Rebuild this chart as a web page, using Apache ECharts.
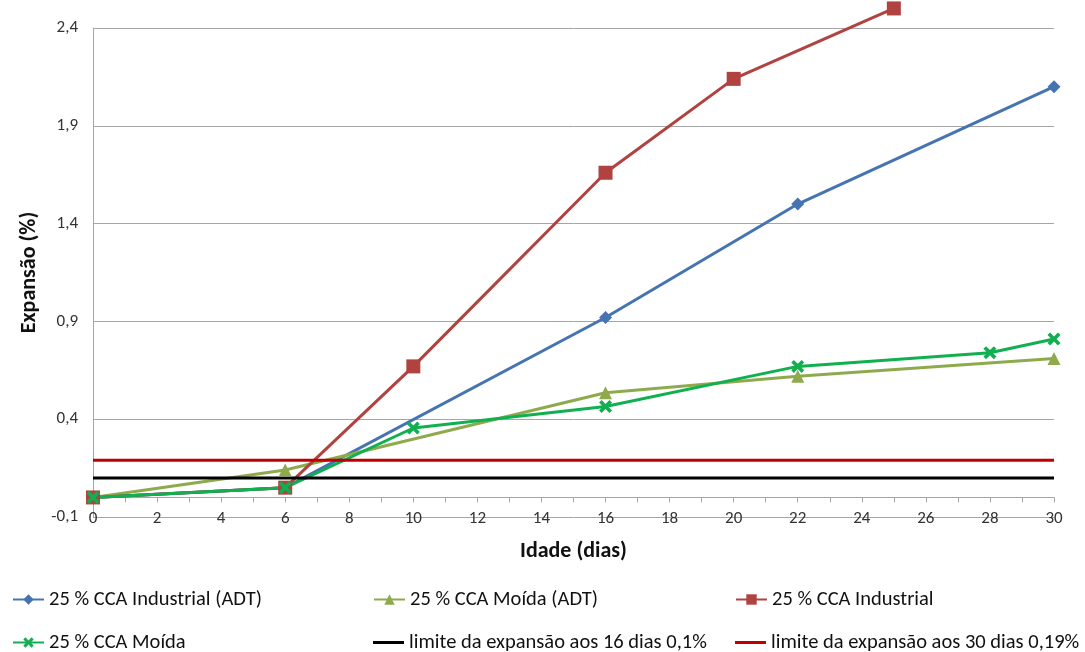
<!DOCTYPE html>
<html>
<head>
<meta charset="utf-8">
<script src="https://cdn.jsdelivr.net/npm/echarts@6/dist/echarts.min.js"></script>
<style>
  html, body { margin: 0; padding: 0; background: #fff; }
  #chart { width: 1085px; height: 652px; }
</style>
</head>
<body>
<div id="chart"></div>
<script>
// Expansion (%) against age (days) for the four CCA mixes and the two limits
const seriesNames = [
  '25 % CCA Industrial (ADT)',
  '25 % CCA Moída (ADT)',
  '25 % CCA Industrial',
  '25 % CCA Moída',
  'limite da expansão aos 16 dias 0,1%',
  'limite da expansão aos 30 dias 0,19%'
];

const industrialAdtDays = [0, 6, 16, 22, 30];
const industrialAdtExp  = [0.00, 0.05, 0.92, 1.50, 2.10];

const moidaAdtDays = [0, 6, 16, 22, 30];
const moidaAdtExp  = [0.00, 0.14, 0.535, 0.62, 0.71];

const industrialDays = [0, 6, 10, 16, 20, 25];
const industrialExp  = [0.00, 0.05, 0.67, 1.66, 2.14, 2.50];

const moidaDays = [0, 6, 10, 16, 22, 28, 30];
const moidaExp  = [0.00, 0.05, 0.355, 0.465, 0.67, 0.74, 0.81];

const limitDays = [0, 30];
const limit16 = [0.10, 0.10];
const limit30 = [0.19, 0.19];

const seriesColors = ['#4674b0', '#8eaa4d', '#b0423f', '#10b050', '#000000', '#c00000'];

const FONT = 'Carlito, "Liberation Sans Narrow", "Open Sans", sans-serif';
const CROSS = 'path://M0,2 L2,0 L5,3 L8,0 L10,2 L7,5 L10,8 L8,10 L5,7 L2,10 L0,8 L3,5 Z';

const pairs = (xs, ys) => xs.map((x, i) => [x, ys[i]]);
const comma = v => String(Math.round(v * 10) / 10).replace('.', ',');

function lineSeries(i, data, symbol, size) {
  return {
    name: seriesNames[i],
    type: 'line',
    xAxisIndex: 0,
    data: data,
    symbol: symbol,
    symbolSize: size,
    showSymbol: symbol !== 'none',
    clip: false,
    color: seriesColors[i],
    lineStyle: { width: 3, color: seriesColors[i] },
    itemStyle: { color: seriesColors[i] },
    emphasis: { disabled: true },
    animation: false
  };
}

// one legend block per entry, laid out in a 3 x 2 grid
const legendCols = [12, 373, 735];
const legendRows = [589, 632];
const legends = seriesNames.map((name, i) => {
  const isLimit = i >= 4;
  return {
    data: [isLimit ? { name: name, icon: 'rect' } : name],
    left: legendCols[i % 3],
    top: legendRows[Math.floor(i / 3)],
    padding: 0,
    itemWidth: 31,
    itemHeight: isLimit ? 3 : 13,
    textStyle: { fontFamily: FONT, fontSize: 20.5, color: '#111' },
    selectedMode: false
  };
});

const chart = echarts.init(document.getElementById('chart'), null, { renderer: 'canvas' });

chart.setOption({
  backgroundColor: '#ffffff',
  animation: false,
  grid: { left: 93, right: 31, top: 28, bottom: 135 },
  xAxis: [
    {
      // axis line and ticks crossing at zero
      type: 'value', min: 0, max: 30, interval: 2,
      axisLine: { show: true, onZero: true, lineStyle: { color: '#a6a6a6', width: 1 } },
      axisTick: { show: true, length: 5, lineStyle: { color: '#a6a6a6' } },
      minorTick: { show: true, splitNumber: 2, length: 5, lineStyle: { color: '#a6a6a6' } },
      axisLabel: { show: false },
      splitLine: { show: false }
    },
    {
      // labels and title along the bottom edge
      type: 'value', min: 0, max: 30, interval: 2, position: 'bottom',
      axisLine: { show: false, onZero: false },
      axisTick: { show: false },
      splitLine: { show: false },
      axisLabel: { margin: 2, verticalAlign: 'middle', fontFamily: FONT, fontSize: 17, color: '#333', formatter: v => String(v) },
      name: 'Idade (dias)', nameLocation: 'middle', nameGap: 23,
      nameTextStyle: { fontFamily: FONT, fontSize: 22, fontWeight: 'bold', color: '#111' }
    }
  ],
  yAxis: {
    type: 'value', min: -0.1, max: 2.4, interval: 0.5,
    axisLine: { show: true, lineStyle: { color: '#a6a6a6', width: 1 } },
    axisTick: { show: false },
    splitLine: { show: true, lineStyle: { color: '#a6a6a6', width: 1 } },
    axisLabel: { margin: 15, fontFamily: FONT, fontSize: 17, color: '#333', formatter: comma },
    name: 'Expansão (%)', nameLocation: 'middle', nameRotate: 90, nameGap: 47,
    nameTextStyle: { fontFamily: FONT, fontSize: 22, fontWeight: 'bold', color: '#111' }
  },
  legend: legends,
  series: [
    lineSeries(0, pairs(industrialAdtDays, industrialAdtExp), 'diamond', 13),
    lineSeries(1, pairs(moidaAdtDays, moidaAdtExp), 'triangle', 13),
    lineSeries(2, pairs(industrialDays, industrialExp), 'rect', 14),
    lineSeries(3, pairs(moidaDays, moidaExp), CROSS, 13),
    lineSeries(4, pairs(limitDays, limit16), 'none', 0),
    lineSeries(5, pairs(limitDays, limit30), 'none', 0)
  ]
});
</script>
</body>
</html>
